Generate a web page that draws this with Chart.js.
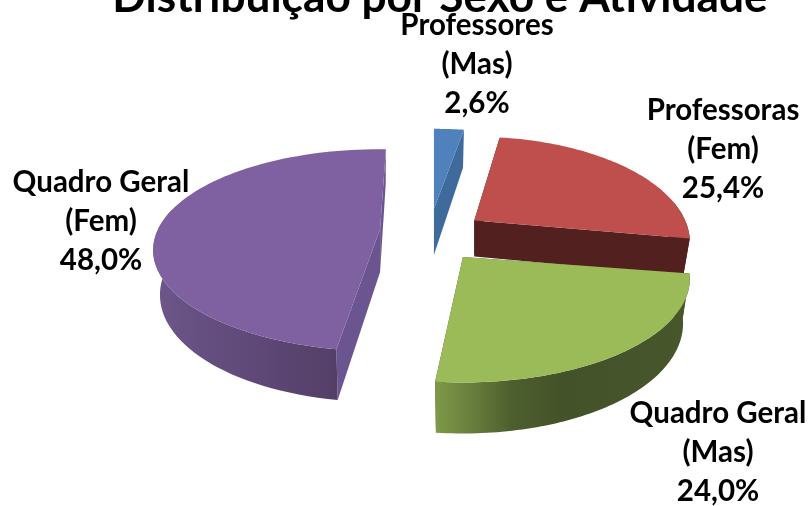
<!DOCTYPE html>
<html lang="pt-br">
<head>
    <meta charset="UTF-8">
    <title>Distribuição por Sexo e Atividade</title>
    <script src="https://cdn.jsdelivr.net/npm/chart.js"></script>
    <style>
        html, body { margin: 0; padding: 0; background: #fff; overflow: hidden; }
        canvas { display: block; }
    </style>
</head>
<body>
    <canvas id="grafico" width="809" height="506"></canvas>
    <script>
        // Dados
        const titulo = 'Distribuição por Sexo e Atividade';
        const categorias = [['Professores', '(Mas)'], ['Professoras', '(Fem)'], ['Quadro Geral', '(Mas)'], ['Quadro Geral', '(Fem)']];
        const valores = [2.6, 25.4, 24.0, 48.0];

        // Estilo de cada fatia
        const corTampa = ['#4f81bd', '#be4f4c', '#9bbb59', '#7f60a0'];
        const corCorte = ['#3f6a9c', '#532020', '#435229', '#6b5590'];
        const corParede = [
            [[0, '#3f6a9c'], [1, '#3f6a9c']],
            [[0, '#532020'], [1, '#532020']],
            [[0, '#7f9a49'], [0.3, '#4e5f2e'], [0.5, '#435229'], [1, '#47562b']],
            [[0, '#6d5689'], [0.5, '#5f4a7a'], [1, '#533f66']]
        ];

        // Efeito 3D: explosão, altura e perspectiva
        const explosao = [73, 54, 56, 50];
        const altura = [46, 36, 43, 43];
        const achatamento = 0.435;
        const perspectiva = 0.208;
        const recuoBase = 0.97;
        const ajusteX = -10;

        // Pequenos acertos por fatia (a perspectiva do original não é regular)
        const acertoX = [-2, 0, 0, 0];
        const acertoY = [0, -7, -5, -11];
        const giro = [0, -1, -1.5, 1.8];
        const escalaX = [1, 0.95, 1, 1];
        const escalaY = [1, 1.05, 1.03, 1];

        // Posição dos rótulos
        const rotuloX = [477, 723, 718, 101];
        const rotuloY = [35, 120, 423, 192];
        const rotuloLinha = 39;

        function ponto(arco, i, ang, r, base) {
            const meio = (arco.startAngle + arco.endAngle) / 2;
            const a = ang + giro[i] * Math.PI / 180;
            const u = Math.cos(a) * r, v = Math.sin(a) * r;
            const w = arco.outerRadius / (1 - perspectiva * v);
            const k = (base ? recuoBase : 1) * escalaX[i];
            return {
                x: arco.x + ajusteX + acertoX[i] + explosao[i] * Math.cos(meio) + k * u * w,
                y: arco.y + acertoY[i] + explosao[i] * Math.sin(meio) * 0.45 + achatamento * escalaY[i] * v * w + (base ? altura[i] + 8 * v : 0)
            };
        }

        function caminho(ctx, pontos) {
            ctx.beginPath();
            pontos.forEach((p, n) => n ? ctx.lineTo(p.x, p.y) : ctx.moveTo(p.x, p.y));
            ctx.closePath();
        }

        function amostra(arco, i, base) {
            const pts = [];
            for (let n = 0; n <= 80; n++) {
                const ang = arco.startAngle + (arco.endAngle - arco.startAngle) * n / 80;
                pts.push(ponto(arco, i, ang, 1, base));
            }
            return pts;
        }

        // Desenha as fatias em 3D a partir dos arcos calculados pelo Chart.js
        const pizza3d = {
            id: 'pizza3d',
            beforeDatasetsDraw(chart) {
                const ctx = chart.ctx;
                chart.getDatasetMeta(0).data.forEach((arco, i) => {
                    const topo = amostra(arco, i, false);
                    const baixo = amostra(arco, i, true);
                    const centro = ponto(arco, i, 0, 0, false);
                    const centroBase = ponto(arco, i, 0, 0, true);

                    // faces de corte
                    ctx.fillStyle = corCorte[i];
                    caminho(ctx, [centro, topo[0], baixo[0], centroBase]);
                    ctx.fill();
                    caminho(ctx, [centro, topo[80], baixo[80], centroBase]);
                    ctx.fill();

                    // parede externa, só a parte da frente
                    const frente = topo.map((p, n) => n).filter(n => topo[n].y > centro.y - 20);
                    if (frente.length > 1) {
                        const bordaTopo = frente.map(n => topo[n]);
                        const bordaBaixo = frente.map(n => baixo[n]);
                        const xs = bordaTopo.concat(bordaBaixo).map(p => p.x);
                        const grad = ctx.createLinearGradient(Math.min(...xs), 0, Math.max(...xs), 0);
                        corParede[i].forEach(c => grad.addColorStop(c[0], c[1]));
                        ctx.fillStyle = grad;
                        caminho(ctx, bordaTopo.concat(bordaBaixo.reverse()));
                        ctx.fill();
                    }

                    // tampa
                    ctx.fillStyle = arco.options.backgroundColor;
                    caminho(ctx, [centro].concat(topo));
                    ctx.fill();
                });
                return false;
            },
            afterDraw(chart) {
                const ctx = chart.ctx;
                ctx.save();
                ctx.fillStyle = '#000';
                ctx.font = 'bold 29.5px Lato';
                ctx.textAlign = 'center';
                ctx.textBaseline = 'alphabetic';
                categorias.forEach((linhas, i) => {
                    const texto = linhas.concat(valores[i].toFixed(1).replace('.', ',') + '%');
                    texto.forEach((t, n) => ctx.fillText(t, rotuloX[i], rotuloY[i] + n * rotuloLinha));
                });
                ctx.restore();
            }
        };

        new Chart(document.getElementById('grafico'), {
            type: 'pie',
            data: {
                labels: categorias.map(c => c.join(' ')),
                datasets: [{ data: valores, backgroundColor: corTampa, borderWidth: 0 }]
            },
            options: {
                responsive: false,
                animation: false,
                radius: 222,
                layout: { padding: { left: 71, right: 0, top: 0, bottom: 46 } },
                plugins: {
                    legend: { display: false },
                    tooltip: { enabled: false },
                    title: {
                        display: true,
                        text: titulo,
                        color: '#000',
                        font: { family: 'Lato', size: 44.2, weight: 'bold' },
                        padding: { top: -29, bottom: -1 }
                    }
                }
            },
            plugins: [pizza3d]
        });
    </script>
</body>
</html>
